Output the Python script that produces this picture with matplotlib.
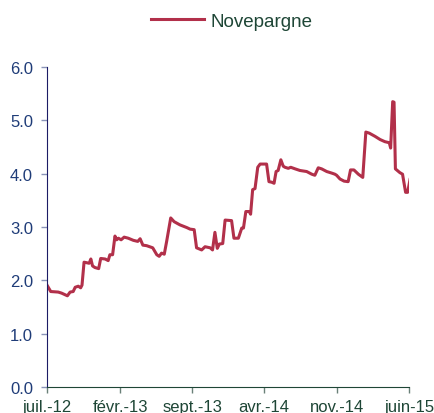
import matplotlib
matplotlib.use("Agg")
import matplotlib.pyplot as plt
import pandas as pd

# Novepargne series
dates = ["2012-07-01", "2012-07-12", "2012-08-03", "2012-08-13", "2012-08-30",
         "2012-09-07", "2012-09-16", "2012-09-22", "2012-10-01", "2012-10-08",
         "2012-10-12", "2012-10-18", "2012-10-26", "2012-11-02", "2012-11-07",
         "2012-11-12", "2012-11-19", "2012-11-30", "2012-12-06", "2012-12-19",
         "2012-12-28", "2013-01-02", "2013-01-10", "2013-01-17", "2013-01-22",
         "2013-01-27", "2013-02-04", "2013-02-13", "2013-02-25", "2013-03-12",
         "2013-03-25", "2013-04-01", "2013-04-09", "2013-04-20", "2013-05-08",
         "2013-05-20", "2013-05-27", "2013-06-03", "2013-06-11", "2013-06-18",
         "2013-06-30", "2013-07-10", "2013-07-27", "2013-08-16", "2013-08-26",
         "2013-09-07", "2013-09-14", "2013-09-29", "2013-10-09", "2013-10-24",
         "2013-10-31", "2013-11-07", "2013-11-14", "2013-11-20", "2013-11-30",
         "2013-12-07", "2013-12-26", "2014-01-02", "2014-01-15", "2014-01-25",
         "2014-01-30", "2014-02-06", "2014-02-16", "2014-02-20", "2014-02-26",
         "2014-03-05", "2014-03-13", "2014-03-20", "2014-04-08", "2014-04-15",
         "2014-04-23", "2014-04-30", "2014-05-06", "2014-05-12", "2014-05-20",
         "2014-05-27", "2014-06-01", "2014-06-11", "2014-06-18", "2014-07-01",
         "2014-07-15", "2014-08-04", "2014-08-19", "2014-08-28", "2014-09-07",
         "2014-09-17", "2014-10-02", "2014-10-17", "2014-10-26", "2014-10-31",
         "2014-11-10", "2014-11-22", "2014-12-04", "2014-12-11", "2014-12-21",
         "2015-01-03", "2015-01-16", "2015-01-25", "2015-02-04", "2015-02-21",
         "2015-03-08", "2015-03-22", "2015-04-04", "2015-04-08", "2015-04-14",
         "2015-04-18", "2015-04-22", "2015-05-05", "2015-05-13", "2015-05-22",
         "2015-05-28", "2015-06-04"]
values = [1.91, 1.79, 1.78, 1.76, 1.71,
          1.78, 1.79, 1.87, 1.89, 1.86,
          1.91, 2.34, 2.33, 2.32, 2.40,
          2.27, 2.24, 2.22, 2.41, 2.40,
          2.37, 2.48, 2.48, 2.83, 2.76,
          2.79, 2.76, 2.81, 2.79, 2.75,
          2.73, 2.78, 2.66, 2.65, 2.61,
          2.48, 2.45, 2.51, 2.49, 2.73,
          3.17, 3.10, 3.04, 2.99, 2.96,
          2.95, 2.61, 2.57, 2.63, 2.61,
          2.57, 2.90, 2.60, 2.68, 2.69,
          3.13, 3.12, 2.79, 2.79, 2.98,
          2.98, 3.29, 3.29, 3.24, 3.70,
          3.72, 4.12, 4.18, 4.18, 3.85,
          3.84, 3.82, 4.04, 4.06, 4.26,
          4.14, 4.12, 4.10, 4.12, 4.09,
          4.06, 4.04, 3.99, 3.97, 4.11,
          4.09, 4.04, 4.01, 3.99, 3.97,
          3.90, 3.86, 3.85, 4.07, 4.07,
          3.99, 3.93, 4.78, 4.76, 4.70,
          4.64, 4.60, 4.58, 4.48, 5.35,
          5.34, 4.09, 4.02, 3.99, 3.65,
          3.65, 3.89]

tick_dates = ["2012-07-01", "2013-02-01", "2013-09-01", "2014-04-01",
              "2014-11-01", "2015-06-01"]
tick_labels = ["juil.-12", "févr.-13", "sept.-13", "avr.-14", "nov.-14", "juin-15"]
y_ticks = [0, 1, 2, 3, 4, 5, 6]

plt.rcParams['font.family'] = ['Liberation Sans', 'DejaVu Sans']

navy = "#1c1c66"
green = "#1e4636"
blue_txt = "#1f3c78"

fig = plt.figure(figsize=(4.34, 4.14), dpi=100)
ax = fig.add_axes([47 / 434, 26 / 414, 362 / 434, 320 / 414])

x = pd.to_datetime(dates)
line, = ax.plot(x, values, color="#b2304a", lw=2.2, label="Novepargne")

ax.set_xlim(pd.Timestamp("2012-07-01"), pd.Timestamp("2015-06-01"))
ax.set_ylim(0, 6)
ax.set_yticks(y_ticks)
ax.set_yticklabels(["%.1f" % v for v in y_ticks])
ax.set_xticks(pd.to_datetime(tick_dates))
ax.set_xticklabels(tick_labels)

for s in ["top", "right"]:
    ax.spines[s].set_visible(False)
ax.spines["left"].set_color(navy)
ax.spines["bottom"].set_color(green)

ax.tick_params(axis="y", direction="out", length=4, width=1, color="#8a94b8",
               labelcolor=blue_txt, labelsize=12, pad=6)
ax.tick_params(axis="x", direction="out", length=4, width=1, color="#6a8078",
               labelcolor=green, labelsize=12, pad=5)

fig.legend(handles=[line], loc="center", bbox_to_anchor=(232 / 434, 1 - 22 / 414),
           frameon=False, fontsize=13.5, handlelength=2.8, handletextpad=0.35,
           labelcolor=green)

fig.savefig("out.png", dpi=100)
